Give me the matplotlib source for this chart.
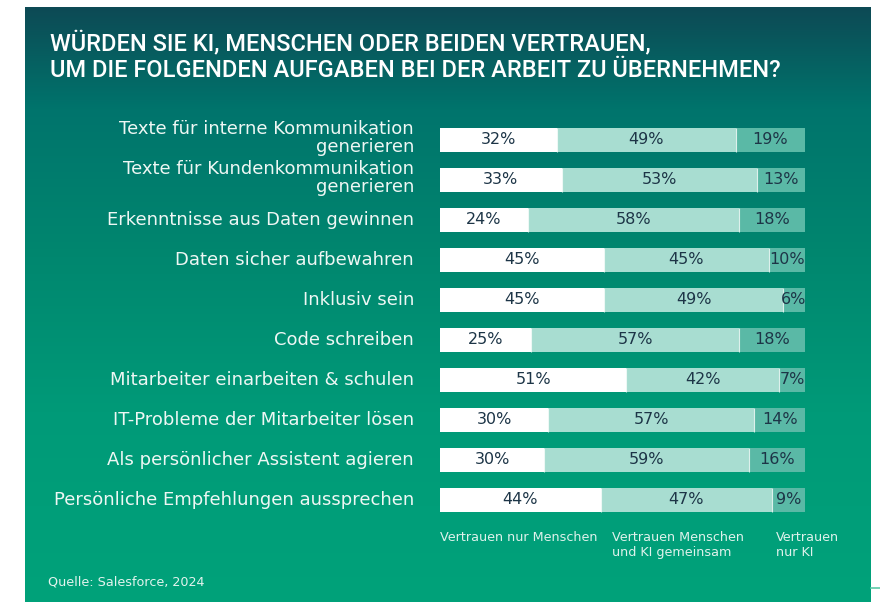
import numpy as np
import matplotlib.pyplot as plt
from matplotlib.colors import LinearSegmentedColormap

categories = [
    "Texte für interne Kommunikation\ngenerieren",
    "Texte für Kundenkommunikation\ngenerieren",
    "Erkenntnisse aus Daten gewinnen",
    "Daten sicher aufbewahren",
    "Inklusiv sein",
    "Code schreiben",
    "Mitarbeiter einarbeiten & schulen",
    "IT-Probleme der Mitarbeiter lösen",
    "Als persönlicher Assistent agieren",
    "Persönliche Empfehlungen aussprechen",
]
nur_menschen = [32, 33, 24, 45, 45, 25, 51, 30, 30, 44]
gemeinsam = [49, 53, 58, 45, 49, 57, 42, 57, 59, 47]
nur_ki = [19, 13, 18, 10, 6, 18, 7, 14, 16, 9]
legend_labels = ["Vertrauen nur Menschen", "Vertrauen Menschen\nund KI gemeinsam", "Vertrauen\nnur KI"]

title_lines = ["WÜRDEN SIE KI, MENSCHEN ODER BEIDEN VERTRAUEN,",
               "UM DIE FOLGENDEN AUFGABEN BEI DER ARBEIT ZU ÜBERNEHMEN?"]
source = "Quelle: Salesforce, 2024"

plt.rcParams['font.family'] = ['DejaVu Sans']

W, H = 880, 602
fig = plt.figure(figsize=(W / 100, H / 100), dpi=100)

# background panel with vertical gradient
bg = fig.add_axes([0, 0, 1, 1])
bg.set_xlim(0, W)
bg.set_ylim(H, 0)
bg.axis('off')
cmap = LinearSegmentedColormap.from_list('bg', [
    (0.0, '#0d4a55'),
    (0.17, '#00746c'),
    (0.42, '#00876f'),
    (0.68, '#009a78'),
    (1.0, '#00a27a'),
])
grad = np.linspace(0, 1, 256).reshape(-1, 1)
bg.imshow(grad, cmap=cmap, aspect='auto', extent=(25, 871, 602, 7), zorder=0)
bg.plot([871, 880], [588, 588], color='#5cc9a7', lw=1.2)

for j, line in enumerate(title_lines):
    bg.text(50, 50 + 27 * j, line, color='white', fontsize=17, fontweight='medium',
            family=['Roboto', 'DejaVu Sans'], va='baseline', ha='left')
bg.text(48, 582, source, color='#e3f3ee', fontsize=9.2, va='center', ha='left')

# bars
ax = fig.add_axes([440 / W, 1 - 520 / H, 365 / W, 400 / H])
ax.set_xlim(0, 100)
ax.set_ylim(len(categories) - 0.5, -0.5)
ax.axis('off')

text_dark = '#1d3547'
colors = ['#ffffff', '#a8ddd1', '#5ab9a6']
y = np.arange(len(categories))
vals = np.array([nur_menschen, gemeinsam, nur_ki], dtype=float)
totals = vals.sum(axis=0)
widths = vals / totals * 100
left = np.zeros(len(categories))
for k in range(3):
    ax.barh(y, widths[k], left=left, height=0.6, color=colors[k], linewidth=0)
    if k > 0:
        ax.vlines(left, y - 0.3, y + 0.3, color='white', lw=0.8, alpha=0.8)
    for i in range(len(categories)):
        ax.text(left[i] + widths[k][i] / 2, y[i], f"{int(vals[k][i])}%",
                ha='center', va='center', color=text_dark, fontsize=11.5)
    left = left + widths[k]

for i, cat in enumerate(categories):
    yy = 140 + 40 * i - (2 if '\n' in cat else 0)
    bg.text(414, yy, cat, ha='right', va='center', multialignment='right',
            color='#eef7f4', fontsize=13, linespacing=1.03)

legend_x = [440, 612, 776]
for x, lab in zip(legend_x, legend_labels):
    bg.text(x, 531, lab, ha='left', va='top', color='#dff2ec', fontsize=9.2, linespacing=1.2)

fig.savefig('out.png', dpi=100)
